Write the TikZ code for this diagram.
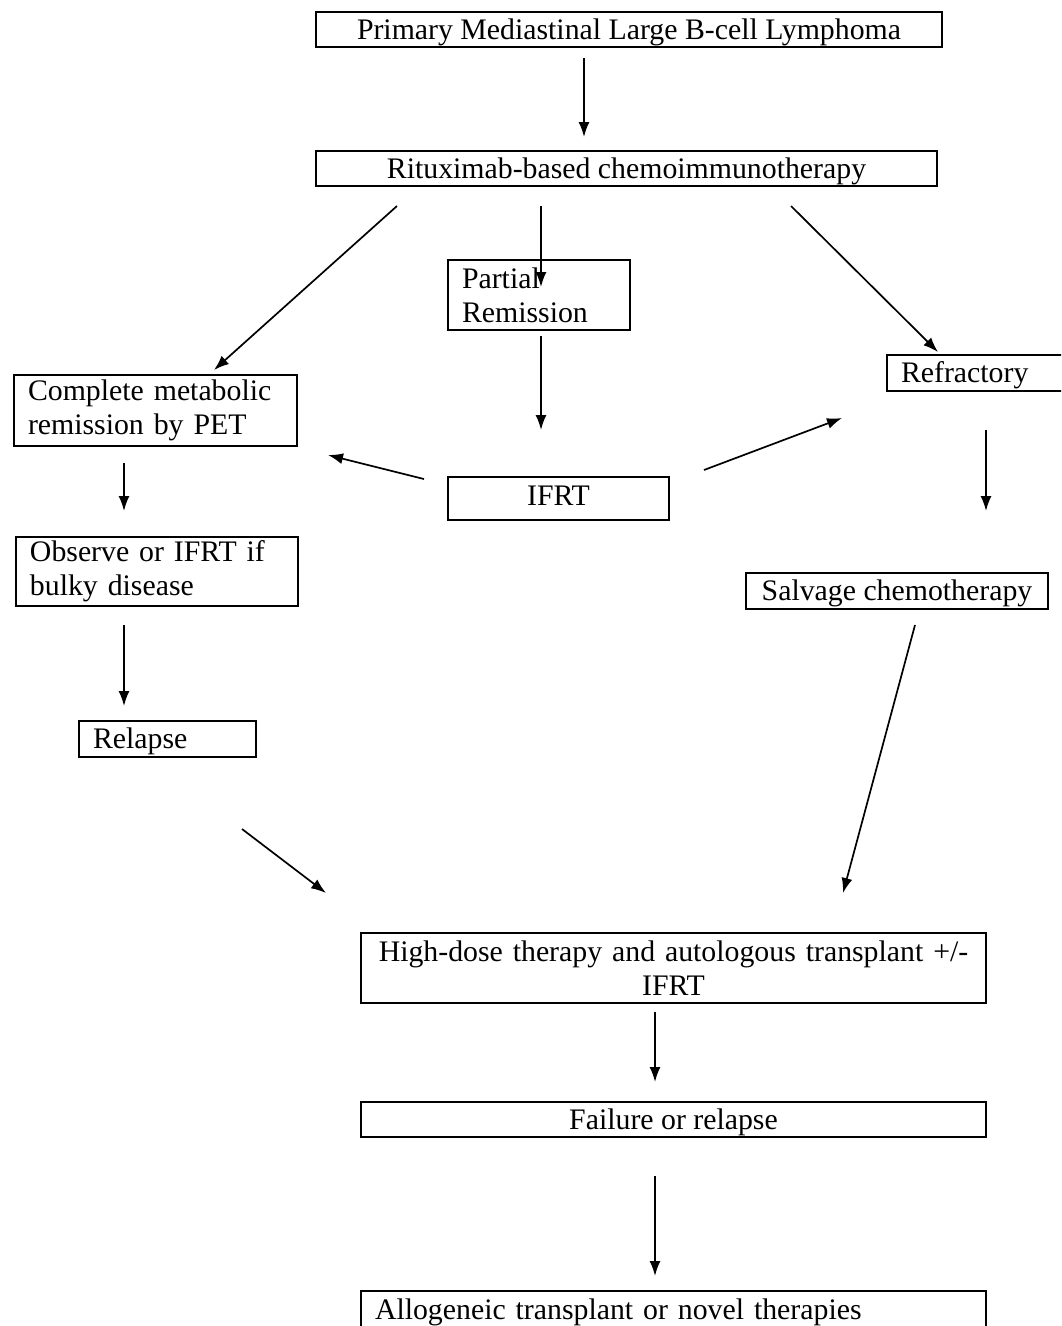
\documentclass[tikz,border=0pt]{standalone}
\usepackage{fontspec}
\setmainfont{Liberation Serif}
\usetikzlibrary{arrows.meta}

\begin{document}
\begin{tikzpicture}[x=1pt, y=-1pt, >={Latex[length=15pt,width=11pt]},
  box/.style={draw, line width=2.6pt, inner xsep=14pt, inner ysep=1pt, font=\fontsize{29.8}{34}\selectfont},
  boxone/.style={box, text height=26pt, text depth=7pt},
  arr/.style={->, line width=1.7pt}]

% Page frame
\useasboundingbox (0,0) rectangle (1061,1326);
\clip (0,0) rectangle (1061,1326);

% Draw the boxes
\node[boxone, minimum width=626pt, minimum height=35pt] (pmbl) at (629,29.5) {Primary Mediastinal Large B-cell Lymphoma};
\node[boxone, minimum width=621pt, minimum height=35pt] (rchemo) at (626.5,168.5) {Rituximab-based chemoimmunotherapy};
\node[box, minimum height=70pt, text width=154pt, align=left] (partial) at (539,295) {Partial\\Remission};
\node[box, minimum height=71pt, text width=255pt, align=left] (cmr) at (155.5,410.5) {Complete metabolic\\remission by PET};
\node[boxone, minimum height=36pt, text width=175pt, align=left] (refr) at (988.5,373) {Refractory};
\node[box, text height=22pt, text depth=9pt, minimum width=221pt, minimum height=43pt] (ifrt) at (558.5,498.5) {IFRT};
\node[box, minimum height=69pt, text width=254pt, align=left] (observe) at (157,571.5) {Observe or IFRT if\\bulky disease};
\node[boxone, minimum width=302pt, minimum height=36pt] (salvage) at (897,591) {Salvage chemotherapy};
\node[boxone, minimum height=36pt, text width=149pt, align=left] (relapse) at (167.5,739) {Relapse};
\node[box, minimum height=70pt, text width=597pt, align=center] (hdt) at (673.5,968) {High-dose therapy and autologous transplant +/-\\IFRT};
\node[boxone, minimum width=625pt, minimum height=35pt] (failure) at (673.5,1119.5) {Failure or relapse};
\node[boxone, minimum height=38pt, text width=597pt, align=left] (allo) at (673.5,1310) {Allogeneic transplant or novel therapies};

% arrow ends
\coordinate (pmbl-out) at (584,58);      \coordinate (rchemo-in) at (584,137);
\coordinate (rchemo-l) at (397,206);     \coordinate (cmr-in) at (214,370);
\coordinate (rchemo-m) at (541,206);     \coordinate (partial-in) at (541,287);
\coordinate (rchemo-r) at (791,206);     \coordinate (refr-in) at (938,352);
\coordinate (partial-out) at (541,336);  \coordinate (ifrt-in) at (541,430);
\coordinate (ifrt-l) at (424,479);       \coordinate (ifrt-lend) at (328,455);
\coordinate (ifrt-r) at (704,470);       \coordinate (ifrt-rend) at (842,418);
\coordinate (cmr-out) at (124,463);      \coordinate (observe-in) at (124,511);
\coordinate (refr-out) at (986,430);     \coordinate (salvage-in) at (986,511);
\coordinate (observe-out) at (124,625);  \coordinate (relapse-in) at (124,706);
\coordinate (salvage-out) at (915,625);  \coordinate (hdt-r) at (843,893);
\coordinate (relapse-out) at (242,829);  \coordinate (hdt-l) at (326,893);
\coordinate (hdt-out) at (655,1012);     \coordinate (failure-in) at (655,1082);
\coordinate (failure-out) at (655,1176); \coordinate (allo-in) at (655,1276);

% draw the arrows:
\draw[arr] (pmbl-out) -- (rchemo-in);
\draw[arr] (rchemo-l) -- (cmr-in);
\draw[arr] (rchemo-m) -- (partial-in);
\draw[arr] (rchemo-r) -- (refr-in);
\draw[arr] (partial-out) -- (ifrt-in);
\draw[arr] (ifrt-l) -- (ifrt-lend);
\draw[arr] (ifrt-r) -- (ifrt-rend);
\draw[arr] (cmr-out) -- (observe-in);
\draw[arr] (refr-out) -- (salvage-in);
\draw[arr] (observe-out) -- (relapse-in);
\draw[arr] (salvage-out) -- (hdt-r);
\draw[arr] (relapse-out) -- (hdt-l);
\draw[arr] (hdt-out) -- (failure-in);
\draw[arr] (failure-out) -- (allo-in);
\end{tikzpicture}
\end{document}
